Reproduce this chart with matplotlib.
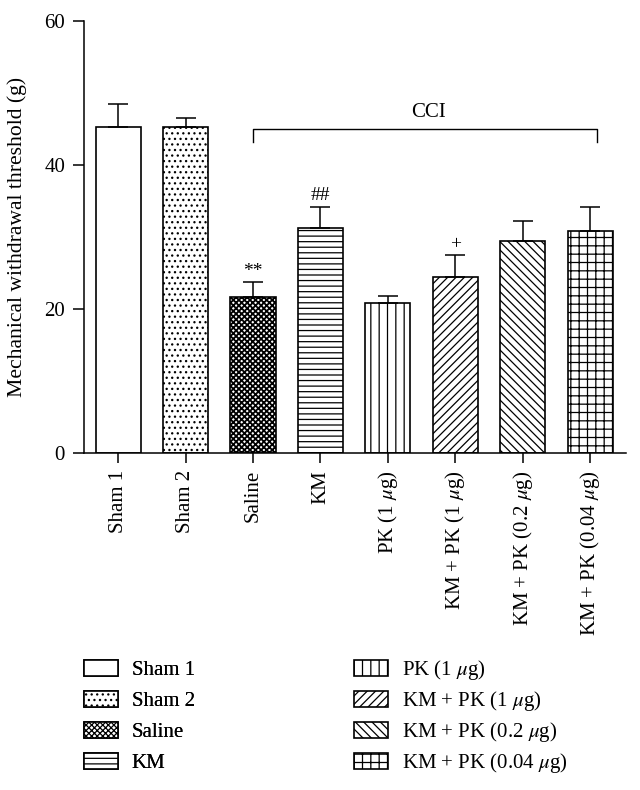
import numpy as np
import matplotlib
matplotlib.use("Agg")
import matplotlib.pyplot as plt

plt.rcParams['font.family'] = ['Liberation Serif', 'DejaVu Serif']
plt.rcParams['mathtext.fontset'] = 'stix'
plt.rcParams['hatch.linewidth'] = 0.9

# data
groups = ['Sham 1', 'Sham 2', 'Saline', 'KM', r'PK (1 $\mu$g)',
          r'KM + PK (1 $\mu$g)', r'KM + PK (0.2 $\mu$g)', r'KM + PK (0.04 $\mu$g)']
means = [45.3, 45.3, 21.7, 31.2, 20.8, 24.4, 29.4, 30.8]
sems = [3.1, 1.2, 2.0, 3.0, 1.0, 3.1, 2.8, 3.3]
hatches = ['', '...', 'xxxxxx', '---', '||', '////', '\\\\\\\\', '++']
marks = ['', '', '**', '##', '', '+', '', '']
cci_label = 'CCI'
bracket_y = 45.0
bracket_drop = 1.9

fig = plt.figure(figsize=(6.4, 7.9), dpi=100)
ax = fig.add_axes([0.132, 0.426, 0.846, 0.548])

x = np.arange(len(groups))
bars = ax.bar(x, means, width=0.67, color='white', edgecolor='black',
              linewidth=1.2, zorder=2)
for b, h in zip(bars.patches, hatches):
    b.set_hatch(h)
    if h.startswith('x') and hasattr(b, 'set_hatch_linewidth'):
        b.set_hatch_linewidth(1.3)

ax.errorbar(x, means, yerr=[np.zeros(len(sems)), sems], fmt='none',
            ecolor='black', elinewidth=1.1, capsize=7, capthick=1.1, zorder=3)

# significance marks
for xi, m, s, mk in zip(x, means, sems, marks):
    if mk:
        ax.text(xi, m + s + 1.5, mk, ha='center', va='center', fontsize=14)

# CCI bracket
x0, x1 = x[2], x[-1] + 0.1
ax.plot([x0, x0, x1, x1], [bracket_y - bracket_drop, bracket_y, bracket_y,
                           bracket_y - bracket_drop],
        color='black', linewidth=1.0, clip_on=False)
ax.text((x0 + x1) / 2 + 0.05, bracket_y + 0.9, cci_label, ha='center',
        va='bottom', fontsize=15)

ax.set_xlim(-0.5, 7.53)
ax.set_ylim(0, 60)
ax.set_yticks([0, 20, 40, 60])
ax.set_xticks(x)
ax.set_xticklabels(groups, rotation=90, ha='center', va='top')
ax.tick_params(axis='both', labelsize=15, width=1.1, direction='out')
ax.tick_params(axis='y', length=8, pad=6)
ax.tick_params(axis='x', length=7, pad=5)
for side in ['top', 'right']:
    ax.spines[side].set_visible(False)
for side in ['left', 'bottom']:
    ax.spines[side].set_linewidth(1.1)

ax.set_ylabel('Mechanical withdrawal threshold (g)', fontsize=15.6)
ax.yaxis.set_label_coords(-0.107, 0.5)

handles = list(bars.patches)
leg_kw = dict(loc='upper left', frameon=False, fontsize=15, borderpad=0,
              borderaxespad=0, handlelength=1.63, handleheight=0.8,
              handletextpad=0.65)
leg1 = fig.legend(handles[:4], groups[:4], labelspacing=0.52,
                  bbox_to_anchor=(84 / 640, 1 - 660 / 790), **leg_kw)
fig.add_artist(leg1)
fig.legend(handles[4:], groups[4:], labelspacing=0.34,
           bbox_to_anchor=(354 / 640, 1 - 658 / 790), **leg_kw)

fig.savefig('out.png', dpi=100)
